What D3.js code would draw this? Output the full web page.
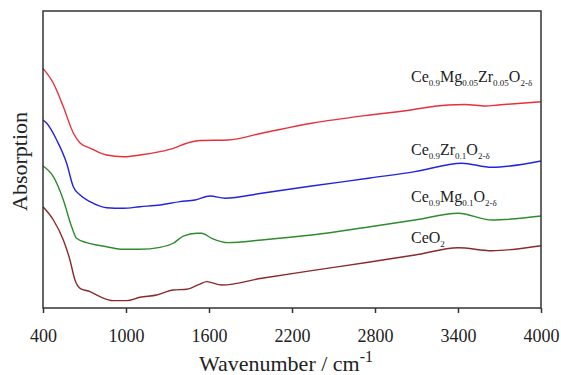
<!DOCTYPE html>
<html>
<head>
<meta charset="utf-8">
<script src="https://d3js.org/d3.v7.min.js"></script>
<style>
	body { margin: 0; background: #fff; }
	text { font-family: "Liberation Serif", "Times New Roman", serif; fill: #222; }
	.frame { fill: none; stroke: #333; stroke-width: 1.5; }
	.axis path, .axis line { stroke: #333; stroke-width: 1.5; }
	.axis text { font-size: 18px; }
	.spectrum { fill: none; stroke-width: 1.4; }
</style>
</head>
<body>
<svg class="chart"></svg>
<script>
// spectra (arbitrary absorption units)
var wnMgZr  = [400, 475, 547, 619, 668, 740, 860, 980, 1101, 1246, 1342, 1439, 1535, 1737, 1981, 2342, 2764, 2966, 3328, 3450, 3600, 3690, 4000];
var absMgZr = [2.421, 2.270, 2.033, 1.768, 1.667, 1.616, 1.545, 1.528, 1.545, 1.579, 1.613, 1.664, 1.692, 1.697, 1.765, 1.866, 1.949, 1.983, 2.051, 2.056, 2.040, 2.051, 2.084];

var wnZr  = [400, 427, 499, 571, 619, 668, 740, 860, 980, 1101, 1246, 1390, 1499, 1607, 1716, 1981, 2342, 2764, 3089, 3427, 3644, 4000];
var absZr = [1.899, 1.866, 1.697, 1.462, 1.225, 1.141, 1.074, 1.013, 1.007, 1.023, 1.040, 1.074, 1.091, 1.131, 1.108, 1.159, 1.232, 1.313, 1.377, 1.462, 1.421, 1.485];

var wnMg  = [400, 475, 547, 607, 643, 716, 788, 860, 980, 1101, 1246, 1342, 1414, 1511, 1547, 1620, 1740, 1981, 2342, 2764, 3089, 3402, 3644, 4000];
var absMg = [1.434, 1.326, 1.091, 0.821, 0.704, 0.660, 0.636, 0.619, 0.593, 0.593, 0.613, 0.654, 0.727, 0.755, 0.755, 0.704, 0.660, 0.687, 0.737, 0.821, 0.889, 0.957, 0.889, 0.929];

var wnCe  = [400, 475, 547, 595, 631, 668, 740, 812, 908, 1005, 1101, 1222, 1342, 1439, 1535, 1583, 1692, 1981, 2342, 2764, 3089, 3402, 3644, 4000];
var absCe = [1.023, 0.889, 0.687, 0.485, 0.283, 0.199, 0.165, 0.114, 0.074, 0.074, 0.108, 0.131, 0.182, 0.189, 0.242, 0.266, 0.232, 0.300, 0.377, 0.465, 0.535, 0.609, 0.579, 0.629];

var xTicks = [400, 1000, 1600, 2200, 2800, 3400, 4000];

// label pieces: [text, is subscript]
var labelMgZr = [["Ce", false], ["0.9", true], ["Mg", false], ["0.05", true], ["Zr", false], ["0.05", true], ["O", false], ["2-δ", true]];
var labelZr   = [["Ce", false], ["0.9", true], ["Zr", false], ["0.1", true], ["O", false], ["2-δ", true]];
var labelMg   = [["Ce", false], ["0.9", true], ["Mg", false], ["0.1", true], ["O", false], ["2-δ", true]];
var labelCe   = [["CeO", false], ["2", true]];

var margin = {top: 11, right: 20, bottom: 67, left: 43};
var width = 561 - margin.left - margin.right;
var height = 375 - margin.top - margin.bottom;

var svg = d3.select(".chart")
	.attr("width", 561)
	.attr("height", 375);

var chart = svg.append("g")
	.attr("transform", "translate(" + margin.left + "," + margin.top + ")");

var x = d3.scaleLinear().domain([400, 4000]).range([0, width]);
var y = d3.scaleLinear().domain([0, 3]).range([height, 0]);

var line = d3.line()
	.x(function(d) { return x(d[0]); })
	.y(function(d) { return y(d[1]); })
	.curve(d3.curveMonotoneX);

// draw one spectrum
function draw_spectrum(wn, ab, colour) {
	var pts = wn.map(function(w, i) { return [w, ab[i]]; });
	chart.append("path")
		.datum(pts)
		.attr("class", "spectrum")
		.attr("stroke", colour)
		.attr("d", line);
}

draw_spectrum(wnMgZr, absMgZr, "#e8303a");
draw_spectrum(wnZr, absZr, "#2323e0");
draw_spectrum(wnMg, absMg, "#2e8b2e");
draw_spectrum(wnCe, absCe, "#8a2a2c");

// sample names with subscripts
function draw_label(parts, xv, yv) {
	var t = chart.append("text")
		.attr("x", x(xv))
		.attr("y", y(yv))
		.style("font-size", "16px");
	var shifted = false;
	parts.forEach(function(p) {
		var s = t.append("tspan").text(p[0]);
		if (p[1]) {
			s.style("font-size", "9px").attr("dy", shifted ? 0 : 4);
			shifted = true;
		} else {
			s.attr("dy", shifted ? -4 : 0);
			shifted = false;
		}
	});
}

draw_label(labelMgZr, 3060, 2.28);
draw_label(labelZr, 3060, 1.545);
draw_label(labelMg, 3060, 1.07);
draw_label(labelCe, 3060, 0.657);

// frame and axes
chart.append("rect")
	.attr("class", "frame")
	.attr("width", width)
	.attr("height", height);

chart.append("g")
	.attr("class", "axis")
	.attr("transform", "translate(0," + height + ")")
	.call(d3.axisBottom(x).tickValues(xTicks).tickSize(5).tickPadding(16).tickFormat(d3.format("d")))
	.call(function(g) { g.select(".domain").remove(); });

var xt = svg.append("text")
	.attr("x", 286)
	.attr("y", 371)
	.attr("text-anchor", "middle")
	.style("font-size", "22px");
xt.append("tspan").text("Wavenumber / cm");
xt.append("tspan").text("-1").style("font-size", "16px").attr("dy", -9);

svg.append("text")
	.attr("transform", "translate(27," + (margin.top + height / 2 + 2) + ") rotate(-90)")
	.attr("text-anchor", "middle")
	.style("font-size", "22px")
	.text("Absorption");
</script>
</body>
</html>
